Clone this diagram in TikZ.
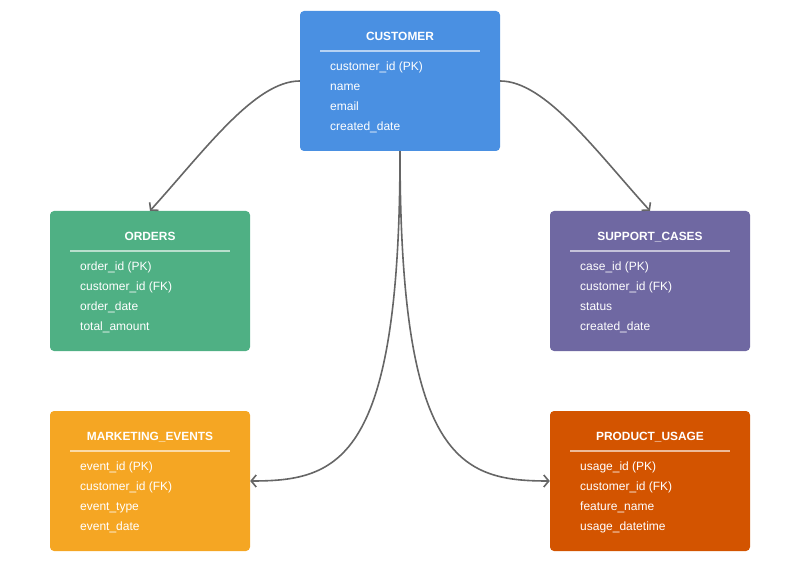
\documentclass[tikz,border=0pt]{standalone}
\usepackage{fontspec}
\setmainfont{Liberation Sans}
\usetikzlibrary{arrows.meta}
\definecolor{custblue}{HTML}{4A90E2}
\definecolor{ordgreen}{HTML}{4FB084}
\definecolor{suppurple}{HTML}{6F68A2}
\definecolor{mktorange}{HTML}{F5A623}
\definecolor{prodorange}{HTML}{D35400}
\definecolor{linkgray}{HTML}{666666}
\begin{document}
\begin{tikzpicture}
     [x=1pt, y=-1pt,
     tablebox/.style={rectangle, rounded corners=4pt, minimum width=200pt, minimum height=140pt, inner sep=0pt},
     titletext/.style={anchor=base, text=white, inner sep=0pt, font=\fontsize{11.9}{14}\selectfont\bfseries},
     rowtext/.style={anchor=base west, text=white, inner sep=0pt, font=\fontsize{12}{14}\selectfont},
     headline/.style={draw=white, draw opacity=0.6, line width=1.5pt},
     link/.style={draw=linkgray, line width=1.6pt, -{Straight Barb[length=5pt,width=12pt]}},
     ]
  \useasboundingbox (0,0) rectangle (800,561);
 % customer
 \node at (400,81) [tablebox, fill=custblue] (customer) {};
 \node at (400,40.5) [titletext] (customer title) {CUSTOMER};
 \draw[headline] (320,51) -- (480,51);
 \node at (330,70.5) [rowtext] (c1) {customer\_id (PK)};
 \node at (330,90.5) [rowtext] (c2) {name};
 \node at (330,110.5) [rowtext] (c3) {email};
 \node at (330,130.5) [rowtext] (c4) {created\_date};
 % orders
 \node at (150,281) [tablebox, fill=ordgreen] (orders) {};
 \node at (150,240.5) [titletext] (orders title) {ORDERS};
 \draw[headline] (70,251) -- (230,251);
 \node at (80,270.5) [rowtext] (o1) {order\_id (PK)};
 \node at (80,290.5) [rowtext] (o2) {customer\_id (FK)};
 \node at (80,310.5) [rowtext] (o3) {order\_date};
 \node at (80,330.5) [rowtext] (o4) {total\_amount};
 % support cases
 \node at (650,281) [tablebox, fill=suppurple] (support) {};
 \node at (650,240.5) [titletext] (support title) {SUPPORT\_CASES};
 \draw[headline] (570,251) -- (730,251);
 \node at (580,270.5) [rowtext] (s1) {case\_id (PK)};
 \node at (580,290.5) [rowtext] (s2) {customer\_id (FK)};
 \node at (580,310.5) [rowtext] (s3) {status};
 \node at (580,330.5) [rowtext] (s4) {created\_date};
 % marketing events
 \node at (150,481) [tablebox, fill=mktorange] (marketing) {};
 \node at (150,440.5) [titletext] (marketing title) {MARKETING\_EVENTS};
 \draw[headline] (70,451) -- (230,451);
 \node at (80,470.5) [rowtext] (m1) {event\_id (PK)};
 \node at (80,490.5) [rowtext] (m2) {customer\_id (FK)};
 \node at (80,510.5) [rowtext] (m3) {event\_type};
 \node at (80,530.5) [rowtext] (m4) {event\_date};
 % product usage
 \node at (650,481) [tablebox, fill=prodorange] (usage) {};
 \node at (650,440.5) [titletext] (usage title) {PRODUCT\_USAGE};
 \draw[headline] (570,451) -- (730,451);
 \node at (580,470.5) [rowtext] (u1) {usage\_id (PK)};
 \node at (580,490.5) [rowtext] (u2) {customer\_id (FK)};
 \node at (580,510.5) [rowtext] (u3) {feature\_name};
 \node at (580,530.5) [rowtext] (u4) {usage\_datetime};
 % links
 \draw[link] (customer.west) .. controls (255,81) and (205,150) .. (orders.north);
 \draw[link] (customer.east) .. controls (545,81) and (595,150) .. (support.north);
 \draw[link] (customer.south) .. controls (400,460) and (340,481) .. (marketing.east);
 \draw[link] (customer.south) .. controls (400,460) and (460,481) .. (usage.west);
 \end{tikzpicture}
\end{document}
